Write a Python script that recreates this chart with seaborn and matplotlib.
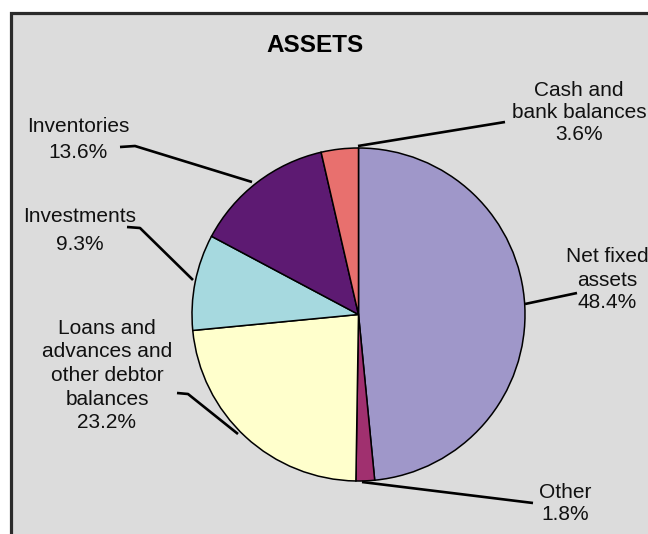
import matplotlib
matplotlib.use("Agg")
import matplotlib.pyplot as plt
from matplotlib.patches import Rectangle
import seaborn as sns

# Asset composition (percent of total)
categories = ["Net fixed\nassets", "Other", "Loans and\nadvances and\nother debtor\nbalances",
              "Investments", "Inventories", "Cash and\nbank balances"]
values = [48.4, 1.8, 23.2, 9.3, 13.6, 3.6]
colors = ["#9f97c9", "#a0306f", "#ffffcc", "#a6d9df", "#5d1a72", "#e8706e"]
title = "ASSETS"

sns.set_style("white")
plt.rcParams["font.family"] = ["Liberation Sans", "DejaVu Sans"]

W, H = 648, 534
fig = plt.figure(figsize=(W / 100, H / 100), dpi=100)
ax = fig.add_axes([0, 0, 1, 1])


def Y(py):
    """Convert a top-down pixel row into the axes' bottom-up coordinate."""
    return H - py


# Gray chart panel with a dark frame on the top and left
ax.add_patch(Rectangle((10.5, Y(560)), 700, 560 - 12.5, facecolor="#dcdcdc",
                       edgecolor="#2b2b2b", linewidth=2.3, zorder=0))

cx, cy, r = 358.5, 314.5, 166.5
wedges, _ = ax.pie(values, colors=colors, startangle=90, counterclock=False,
                   center=(cx, Y(cy)), radius=r,
                   wedgeprops=dict(edgecolor="black", linewidth=1.1))
for w in wedges:
    w.set_zorder(2)

ax.set_xlim(0, W)
ax.set_ylim(0, H)
ax.set_aspect("auto")
ax.axis("off")

# Leader lines from the labels to the slices (pixel rows, top-down)
leaders = [
    [(358, 146), (505, 122)],                # cash
    [(525, 304), (577, 293)],                # net fixed
    [(362, 482), (533, 503)],                # other
    [(177, 393), (188, 394), (238, 434)],    # loans
    [(127, 227), (140, 228), (193, 280)],    # investments
    [(120, 147), (135, 146), (252, 182)],    # inventories
]
for pts in leaders:
    ax.plot([p[0] for p in pts], [Y(p[1]) for p in pts], color="black",
            linewidth=1.9, solid_capstyle="butt", zorder=3)

# Label blocks: (x centre, first line row, line step)
label_pos = [
    (607, 257, 23),   # net fixed
    (565, 492, 22),   # other
    (107, 328, 23.7), # loans
    (80, 217, 27),    # investments
    (78, 127, 25),    # inventories
    (579, 90, 22.5),  # cash
]
fs = 15
for name, val, (x, y0, step) in zip(categories, values, label_pos):
    lines = name.split("\n") + [f"{val}%"]
    for i, line in enumerate(lines):
        ax.text(x, Y(y0 + i * step), line, ha="center", va="center",
                fontsize=fs, color="#111111", zorder=4)

ax.text(315, Y(46), title, ha="center", va="center", fontsize=17.5,
        fontweight="bold", color="black", zorder=4)

fig.savefig("out.png", dpi=100, facecolor="white")
